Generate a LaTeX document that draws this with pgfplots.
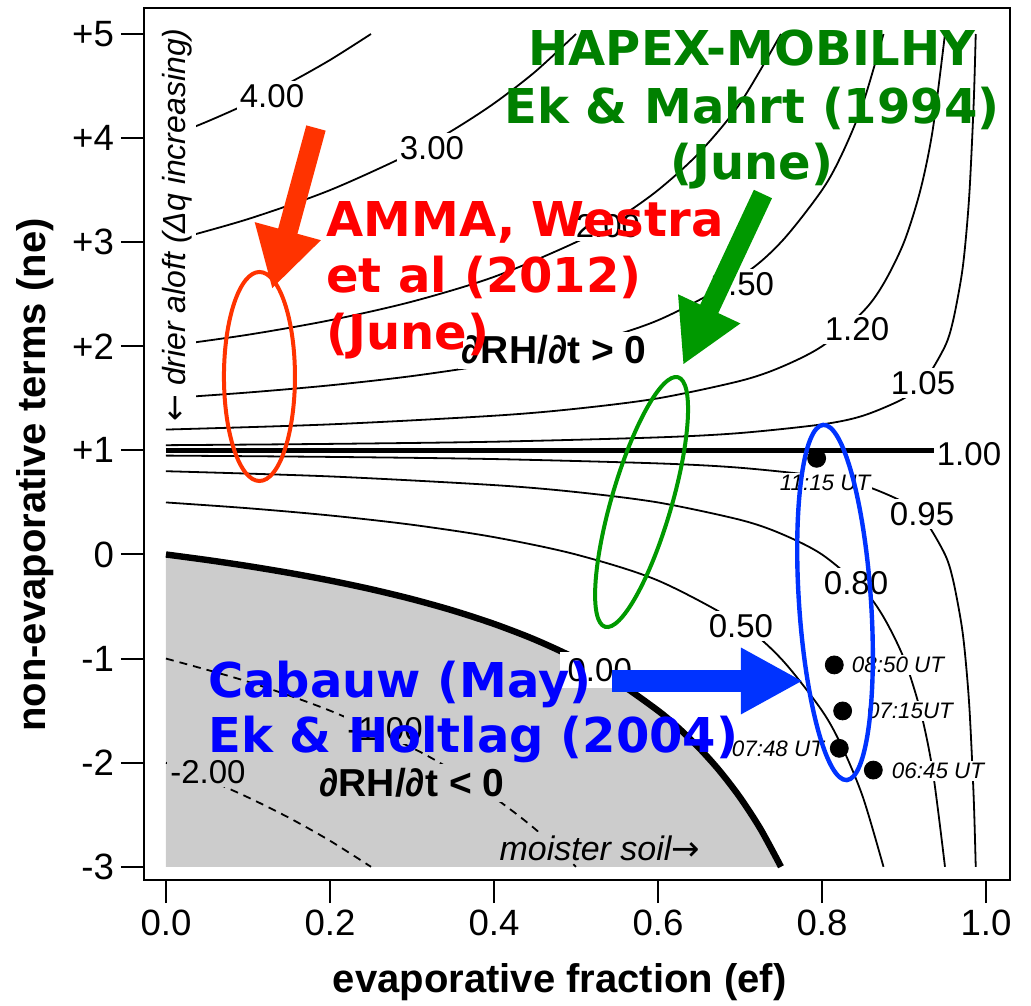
\documentclass[border=0pt]{standalone}
\usepackage{fontspec}
\setmainfont{Liberation Sans}
\newfontfamily\dejavu{DejaVu Sans}
\usepackage{pgfplots}
\pgfplotsset{compat=1.18}
\usetikzlibrary{arrows.meta,shapes.geometric}
\definecolor{shade}{HTML}{CCCCCC}
\definecolor{annred}{HTML}{FF0000}
\definecolor{arrred}{HTML}{FF3300}
\definecolor{anngreen}{HTML}{008000}
\definecolor{arrgreen}{HTML}{009900}
\definecolor{annblue}{HTML}{0000FF}
\definecolor{arrblue}{HTML}{0033FF}
\tikzset{
  cl/.style={black, line width=0.9pt, smooth},
  dl/.style={black, line width=0.9pt, smooth, dash pattern=on 4pt off 3pt},
  clabel/.style={font=\fontsize{16.5}{19}\selectfont, fill=white, inner sep=1.5pt},
  dlabel/.style={font=\fontsize{11.2}{13}\selectfont\itshape, fill=white, inner sep=1pt},
  ann/.style={font=\fontsize{24}{28.5}\selectfont\dejavu\bfseries},
}
\begin{document}
\begin{tikzpicture}
\useasboundingbox (-72pt,-62.5pt) rectangle (443.5pt,440pt);
\begin{axis}[
  at={(0pt,0pt)}, anchor=south west,
  scale only axis, width=433pt, height=436pt,
  xmin=-0.0268, xmax=1.0293, ymin=-3.127, ymax=5.25,
  clip=false,
  axis line style={line width=1pt, black},
  tick style={line width=1pt, black},
  tick align=outside,
  major tick length=11.5pt,
  xtick={0,0.2,0.4,0.6,0.8,1},
  xticklabels={0.0,0.2,0.4,0.6,0.8,1.0},
  ytick={-3,-2,-1,0,1,2,3,4,5},
  yticklabels={-3,-2,-1,0,+1,+2,+3,+4,+5},
  xtick pos=left, ytick pos=left,
  ticklabel style={font=\fontsize{18.3}{22}\selectfont},
  xlabel={evaporative fraction (ef)},
  ylabel={non-evaporative terms (ne)},
  label style={font=\fontsize{20}{24}\selectfont\bfseries},
  xlabel style={at={(axis description cs:0.48,-0.117)}, anchor=center},
  ylabel style={at={(axis description cs:-0.126,0.4644)}, anchor=center},
]
% shaded region (RH tendency < 0)
\addplot[fill=shade, draw=none] coordinates {
 (0,0) (0.05,-0.05263) (0.1,-0.1111) (0.15,-0.17647) (0.2,-0.25) (0.25,-0.3333)
 (0.3,-0.42857) (0.35,-0.53846) (0.4,-0.66667) (0.45,-0.81818) (0.5,-1)
 (0.55,-1.22222) (0.6,-1.5) (0.625,-1.66667) (0.65,-1.85714) (0.675,-2.07692) (0.7,-2.33333) (0.725,-2.63636) (0.75,-3) (0,-3)} -- cycle;
% contours > 1
\addplot[cl] coordinates {(0,4) (0.05,4.158) (0.1,4.333) (0.15,4.529) (0.2,4.75) (0.25,5)};
\addplot[cl] coordinates {(0,3) (0.1,3.222) (0.2,3.5) (0.3,3.857) (0.35,4.077) (0.4,4.333) (0.45,4.636) (0.5,5)};
\addplot[cl] coordinates {(0,2) (0.1,2.111) (0.2,2.25) (0.3,2.429) (0.4,2.667) (0.5,3) (0.55,3.222) (0.6,3.5) (0.65,3.857) (0.7,4.333) (0.75,5)};
\addplot[cl] coordinates {(0,1.5) (0.1,1.556) (0.2,1.625) (0.3,1.714) (0.4,1.833) (0.5,2) (0.6,2.25) (0.7,2.667) (0.75,3) (0.8,3.5) (0.825,3.857) (0.85,4.333) (0.875,5)};
\addplot[cl] coordinates {(0,1.2) (0.2,1.25) (0.4,1.333) (0.5,1.4) (0.6,1.5) (0.7,1.667) (0.75,1.8) (0.8,2) (0.85,2.333) (0.875,2.6) (0.9,3) (0.92,3.5) (0.935,4.077) (0.95,5)};
\addplot[cl] coordinates {(0,1.05) (0.2,1.0625) (0.4,1.0833) (0.6,1.125) (0.7,1.1667) (0.8,1.25) (0.85,1.333) (0.9,1.5) (0.925,1.667) (0.95,2) (0.96,2.25) (0.97,2.667) (0.975,3) (0.98,3.5) (0.985,4.333) (0.9875,5)};
% contour = 1
\addplot[black, line width=2.4pt] coordinates {(0,1) (1,1)};
% contours < 1
\addplot[cl] coordinates {(0,0.95) (0.2,0.9375) (0.4,0.9167) (0.6,0.875) (0.7,0.8333) (0.8,0.75) (0.85,0.6667) (0.9,0.5) (0.925,0.3333) (0.95,0) (0.96,-0.25) (0.97,-0.6667) (0.975,-1) (0.98,-1.5) (0.985,-2.333) (0.9875,-3)};
\addplot[cl] coordinates {(0,0.8) (0.2,0.75) (0.4,0.6667) (0.5,0.6) (0.6,0.5) (0.7,0.3333) (0.75,0.2) (0.8,0) (0.85,-0.3333) (0.875,-0.6) (0.9,-1) (0.92,-1.5) (0.935,-2.077) (0.95,-3)};
\addplot[cl] coordinates {(0,0.5) (0.1,0.4444) (0.2,0.375) (0.3,0.2857) (0.4,0.1667) (0.5,0) (0.6,-0.25) (0.7,-0.6667) (0.75,-1) (0.8,-1.5) (0.825,-1.857) (0.85,-2.333) (0.875,-3)};
% contour = 0 (thick)
\addplot[black, line width=3.2pt, smooth] coordinates {
 (0,0) (0.05,-0.05263) (0.1,-0.1111) (0.15,-0.17647) (0.2,-0.25) (0.25,-0.3333)
 (0.3,-0.42857) (0.35,-0.53846) (0.4,-0.66667) (0.45,-0.81818) (0.5,-1)
 (0.55,-1.22222) (0.6,-1.5) (0.625,-1.66667) (0.65,-1.85714) (0.675,-2.07692) (0.7,-2.33333) (0.725,-2.63636) (0.75,-3)};
% negative contours (dashed)
\addplot[dl] coordinates {(0,-1) (0.1,-1.2222) (0.2,-1.5) (0.3,-1.857) (0.35,-2.077) (0.4,-2.333) (0.45,-2.636) (0.5,-3)};
\addplot[dl] coordinates {(0,-2) (0.05,-2.158) (0.1,-2.333) (0.15,-2.529) (0.2,-2.75) (0.25,-3)};
% contour labels
\node[clabel] at (axis cs:0.1293,4.404) {4.00};
\node[clabel] at (axis cs:0.3244,3.905) {3.00};
\node[clabel] at (axis cs:0.539,3.156) {2.00};
\node[clabel] at (axis cs:0.7024,2.60) {1.50};
\node[clabel] at (axis cs:0.8427,2.16) {1.20};
\node[clabel] at (axis cs:0.9232,1.647) {1.05};
\node[clabel] at (axis cs:0.9793,0.965) {1.00};
\node[clabel] at (axis cs:0.9220,0.389) {0.95};
\node[clabel] at (axis cs:0.8415,-0.274) {0.80};
\node[clabel] at (axis cs:0.7012,-0.687) {0.50};
\node[clabel, inner xsep=4pt, inner ysep=3pt] at (axis cs:0.529,-1.11) {0.00};
\node[clabel, fill=shade] at (axis cs:0.2671,-1.676) {-1.00};
\node[clabel, fill=shade] at (axis cs:0.0512,-2.089) {-2.00};
% region texts
\node[font=\fontsize{19.5}{22}\selectfont\bfseries, fill=white, inner sep=2pt] at (axis cs:0.4732,1.962) {∂RH/∂t > 0};
\node[font=\fontsize{19.5}{22}\selectfont\bfseries, fill=shade, inner sep=2pt] at (axis cs:0.300,-2.195) {∂RH/∂t < 0};
\node[font=\fontsize{17}{20}\selectfont\itshape, fill=shade, inner sep=1.5pt] at (axis cs:0.529,-2.819) {moister soil{\dejavu\upshape →}};
\node[font=\fontsize{16}{19}\selectfont\itshape, fill=white, inner sep=2pt, rotate=90] at (axis cs:0.0134,3.165) {{\dejavu\upshape ←} drier aloft (Δq increasing)};
% observations
\addplot[only marks, mark=*, mark size=4.5pt, black] coordinates {
 (0.7935,0.924) (0.8150,-1.061) (0.8252,-1.503) (0.8211,-1.862) (0.8626,-2.071)};
\node[dlabel] at (axis cs:0.8037,0.687) {11:15 UT};
\node[dlabel] at (axis cs:0.8927,-1.061) {08:50 UT};
\node[dlabel] at (axis cs:0.9073,-1.503) {07:15UT};
\node[dlabel] at (axis cs:0.7463,-1.868) {07:48 UT};
\node[dlabel] at (axis cs:0.9415,-2.080) {06:45 UT};
% annotations: ellipses
\node[draw=arrred, line width=2pt, ellipse, minimum width=35.5pt, minimum height=104.5pt, inner sep=0pt] at (axis cs:0.114,1.71) {};
\node[draw=arrgreen, line width=2pt, ellipse, minimum width=30pt, minimum height=130pt, inner sep=0pt, rotate=-16.3] at (axis cs:0.580,0.504) {};
\node[draw=arrblue, line width=2.2pt, ellipse, minimum width=36pt, minimum height=178pt, inner sep=0pt, rotate=3.8] at (axis cs:0.8159,-0.461) {};
% annotations: arrows
\draw[arrred, line width=10pt, -{Triangle[length=30pt, width=32pt]}] (axis cs:0.1829,4.097) -- (axis cs:0.1293,2.55);
\draw[arrgreen, line width=10pt, -{Triangle[length=31pt, width=32pt]}] (axis cs:0.728,3.463) -- (axis cs:0.6305,1.820);
\draw[arrblue, line width=11pt, -{Triangle[length=31pt, width=31pt]}] (axis cs:0.5439,-1.215) -- (axis cs:0.7768,-1.215);
% annotations: texts
\node[ann, text=anngreen, anchor=base] at (axis cs:0.7146,4.702) {HAPEX-MOBILHY};
\node[ann, text=anngreen, anchor=base] at (axis cs:0.7146,4.145) {Ek \& Mahrt (1994)};
\node[ann, text=anngreen, anchor=base] at (axis cs:0.7146,3.598) {(June)};
\node[ann, text=annred, anchor=base west, inner sep=0pt] at (axis cs:0.1951,3.050) {AMMA, Westra};
\node[ann, text=annred, anchor=base west, inner sep=0pt] at (axis cs:0.1951,2.512) {et al (2012)};
\node[ann, text=annred, anchor=base west, inner sep=0pt] at (axis cs:0.1951,1.974) {(June)};
\node[ann, text=annblue, anchor=base west, inner sep=0pt] at (axis cs:0.0512,-1.370) {Cabauw (May)};
\node[ann, text=annblue, anchor=base west, inner sep=0pt] at (axis cs:0.0512,-1.905) {Ek \& Holtlag (2004)};
\end{axis}
\end{tikzpicture}
\end{document}
